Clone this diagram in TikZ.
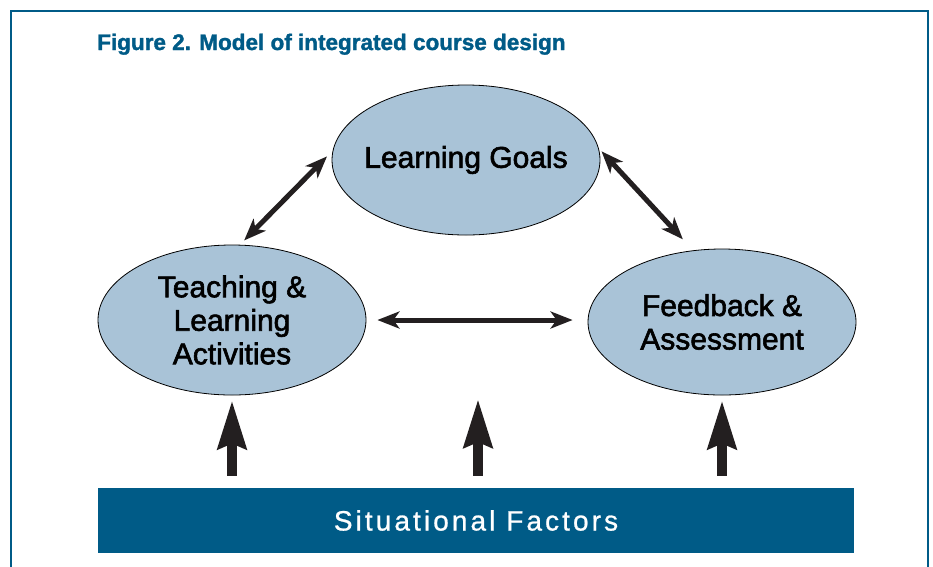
\documentclass[tikz,border=0pt]{standalone}
\usepackage{fontspec}
\usetikzlibrary{shapes.geometric,arrows.meta}

\newfontfamily\ovalfont{Liberation Sans}[FakeBold=2]
\newfontfamily\barfont{Liberation Sans}[FakeBold=0.8]
\newfontfamily\captionfont{Liberation Sans Bold}[FakeBold=1.5]
\definecolor{framecol}{HTML}{005B87}
\definecolor{ovalcol}{HTML}{A9C3D7}
\definecolor{arrowcol}{HTML}{231F20}

\tikzset{
    oval/.style={ellipse, draw=black, line width=0.8pt, fill=ovalcol,
        minimum width=268pt, minimum height=150pt, inner sep=0pt,
        align=center, font=\ovalfont\fontsize{30}{33.5}\selectfont},
    twoway/.style={draw=arrowcol, line width=5pt,
        {Stealth[length=22pt,width=17pt,inset=6pt]}-{Stealth[length=22pt,width=17pt,inset=6pt]}},
    upward/.style={draw=arrowcol, line width=10pt,
        -{Stealth[length=48pt,width=28pt,inset=5pt]}},
}

\begin{document}
\begin{tikzpicture}[x=1pt,y=-1pt]
    \useasboundingbox (0,0) rectangle (933,566);
    % frame and title
    \draw[framecol, line width=2.5pt] (11,570) -- (11,11) -- (928,11) -- (928,570);
    \node[anchor=base west, inner sep=0pt, text=framecol,
          font=\captionfont\fontsize{22.5}{26}\selectfont] (title) at (97,50)
        {Figure 2. Model of integrated course design};

    % the three parts of the design
    \node[oval, inner xsep=-30pt] (goals) at (466,160) {Learning Goals};
    \node[oval] (teach) at (232,320) {Teaching \&\\Learning\\Activities};
    \node[oval, minimum height=146pt] (feed) at (722,322) {Feedback \&\\Assessment};

    \node[fill=framecol, minimum width=756pt, minimum height=65pt, inner sep=0pt,
          text=white, font=\barfont\addfontfeatures{LetterSpace=11}\fontsize{28}{32}\selectfont]
        (situation) at (476,520.5) {Situational Factors};
    \coordinate (mid) at (478,399);

    % links
    \draw[twoway, shorten >=6pt, shorten <=8pt] (goals.176) -- (teach.84);
    \draw[twoway, shorten >=15pt, shorten <=4pt] (goals.5) -- (feed.112);
    \draw[twoway, shorten >=15pt, shorten <=11pt] (teach.east) -- (teach.east -| feed.west);

    \draw[upward, shorten <=12pt, shorten >=5pt] (situation.north -| teach.south) -- (teach.south);
    \draw[upward, shorten <=12pt] (situation.north -| mid) -- (mid);
    \draw[upward, shorten <=12pt, shorten >=5pt] (situation.north -| feed.south) -- (feed.south);
\end{tikzpicture}
\end{document}
